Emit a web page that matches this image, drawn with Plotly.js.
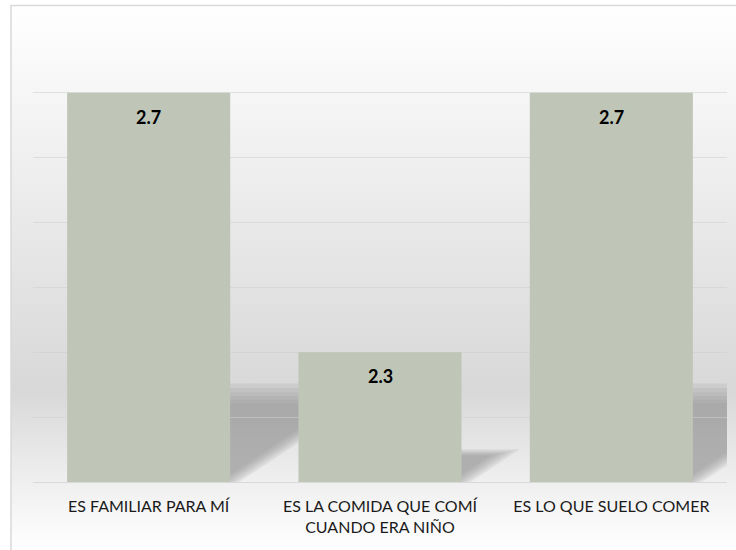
<!DOCTYPE html>
<html><head><meta charset="utf-8">
<script src="https://cdn.plot.ly/plotly-3.0.1.min.js"></script>
<style>html,body{margin:0;padding:0;background:#fff}#chart{width:736px;height:550px}</style>
</head><body><div id="chart"></div>
<script>
// ---- data ----
const categories = ['ES FAMILIAR PARA MÍ', 'ES LA COMIDA QUE COMÍ CUANDO ERA NIÑO', 'ES LO QUE SUELO COMER'];
const tickLabels = ['ES FAMILIAR PARA MÍ', 'ES LA COMIDA QUE COMÍ<br>CUANDO ERA NIÑO', 'ES LO QUE SUELO COMER'];
const values = [2.7, 2.3, 2.7];
const yMin = 2.1, yMax = 2.8, yStep = 0.1;

// ---- geometry / style ----
const W = 736, H = 550;
const xDom = [33 / W, 727 / W];
const yDom = [(H - 482) / H, (H - 28) / H];
const barWidth = 0.705;
const xIdx = categories.map((_, i) => i);
const pxPerX = (xDom[1] - xDom[0]) * W / categories.length;
const pxPerY = (yDom[1] - yDom[0]) * H / (yMax - yMin);

// background gradient (Excel-like soft floor)
const bgSvg = "<svg xmlns='http://www.w3.org/2000/svg' width='736' height='550' viewBox='0 0 736 550' preserveAspectRatio='none'>" +
  "<defs><linearGradient id='g' gradientUnits='userSpaceOnUse' x1='0' y1='5' x2='0' y2='550'>" +
  "<stop offset='0' stop-color='#ffffff'/>" +
  "<stop offset='0.706' stop-color='#d8d8d8'/>" +
  "<stop offset='0.875' stop-color='#efefef'/>" +
  "<stop offset='1' stop-color='#ffffff'/>" +
  "</linearGradient></defs><rect x='11' y='5' width='740' height='560' fill='url(#g)'/></svg>";

// soft perspective shadows behind bars, built from the data values
const shadowLayers = [[1.1, 9], [1.05, 5], [1.0, 1], [0.96, -3], [0.92, -7], [0.88, -11]];
const shapes = [];
values.forEach((v, i) => {
  const hPx = (v - yMin) * pxPerY * 0.23;
  shadowLayers.forEach(([hf, ex]) => {
    const dyPx = hPx * hf, dxPx = dyPx * 1.5;
    const xl = i - barWidth / 2, xr = i + barWidth / 2;
    const yb = yMin, yt = yMin + dyPx / pxPerY;
    const sx = dxPx / pxPerX, e = ex / pxPerX;
    shapes.push({
      type: 'path', xref: 'x', yref: 'y', layer: 'below',
      path: `M${xl},${yb} L${xr + e},${yb} L${xr + sx + e},${yt} L${xl + sx},${yt} Z`,
      fillcolor: '#8a8a8a', opacity: 0.15, line: {width: 0}
    });
  });
});
// chart frame
shapes.push({
  type: 'rect', xref: 'paper', yref: 'paper', layer: 'above',
  x0: 11 / W, x1: 1.2, y0: -0.2, y1: 1 - 5.5 / H,
  line: {color: '#d9d9d9', width: 1.5}, fillcolor: 'rgba(0,0,0,0)'
});

const trace = {
  type: 'bar', x: xIdx, y: values, width: barWidth,
  marker: {color: '#bfc6b8', line: {width: 0}},
  hoverinfo: 'skip'
};

const annotations = values.map((v, i) => ({
  x: i, y: v, xref: 'x', yref: 'y', text: v.toFixed(1), showarrow: false,
  yanchor: 'top', yshift: -11,
  font: {family: 'Lato, "Liberation Sans", sans-serif', size: 18, color: '#000', weight: 'bold'}
}));

const layout = {
  width: W, height: H,
  margin: {l: 0, r: 0, t: 0, b: 0},
  paper_bgcolor: '#ffffff', plot_bgcolor: 'rgba(0,0,0,0)',
  showlegend: false,
  images: [{source: 'data:image/svg+xml;charset=utf-8,' + encodeURIComponent(bgSvg),
    xref: 'paper', yref: 'paper', x: 0, y: 1, sizex: 1, sizey: 1,
    xanchor: 'left', yanchor: 'top', sizing: 'stretch', layer: 'below'}],
  xaxis: {
    domain: xDom, range: [-0.5, categories.length - 0.5],
    tickmode: 'array', tickvals: xIdx, ticktext: tickLabels,
    showgrid: false, zeroline: false, showline: true, linecolor: '#d9d9d9', linewidth: 1,
    ticks: '', ticklabelstandoff: 10,
    tickfont: {family: 'Lato, "Liberation Sans", sans-serif', size: 16, color: '#1a1a1a'},
    fixedrange: true
  },
  yaxis: {
    domain: yDom, range: [yMin, yMax], dtick: yStep, tick0: yMin,
    showgrid: true, gridcolor: 'rgba(205,205,205,0.55)', gridwidth: 1,
    zeroline: false, showline: false, showticklabels: false, ticks: '',
    fixedrange: true
  },
  shapes: shapes,
  annotations: annotations
};

Plotly.newPlot('chart', [trace], layout, {displayModeBar: false, staticPlot: true});
</script></body></html>
